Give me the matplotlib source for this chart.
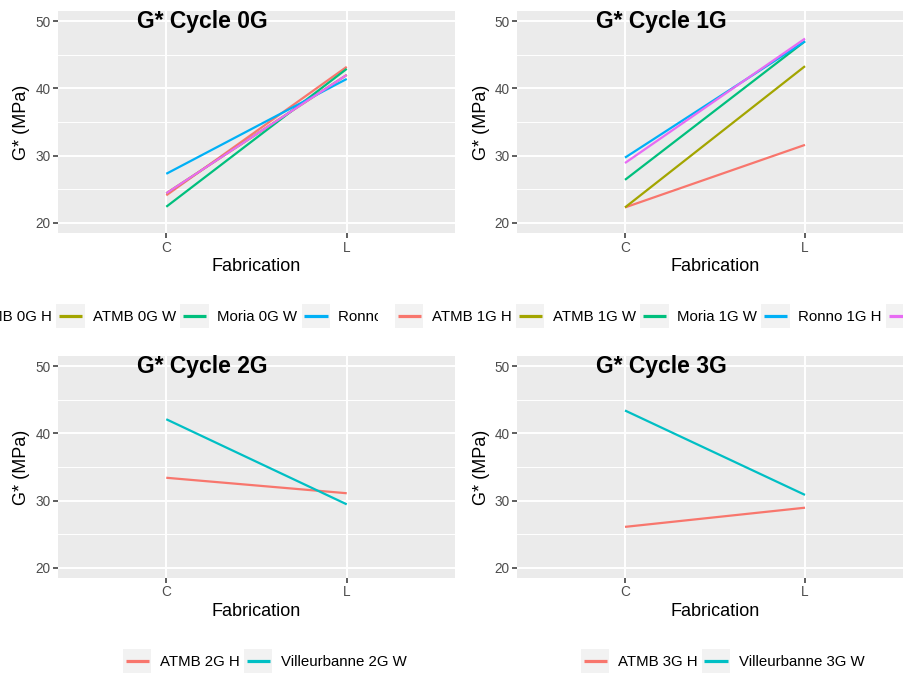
import matplotlib
matplotlib.use("Agg")
import matplotlib.pyplot as plt
from matplotlib.legend_handler import HandlerBase
from matplotlib.patches import Rectangle
from matplotlib.lines import Line2D

plt.rcParams["font.family"] = ["Liberation Sans", "DejaVu Sans"]

fabrication = ["C", "L"]

labels_0g = ["ATMB 0G H", "ATMB 0G W", "Moria 0G W", "Ronno 0G H", "Villeurbanne 0G W"]
c_0g = [24.1, 24.4, 22.4, 27.3, 24.4]
l_0g = [43.2, 42.0, 42.9, 41.4, 42.0]

labels_1g = ["ATMB 1G H", "ATMB 1G W", "Moria 1G W", "Ronno 1G H", "Villeurbanne 1G W"]
c_1g = [22.3, 22.3, 26.4, 29.7, 28.9]
l_1g = [31.6, 43.3, 47.0, 47.0, 47.4]

labels_2g = ["ATMB 2G H", "Villeurbanne 2G W"]
c_2g = [33.4, 42.1]
l_2g = [31.1, 29.45]

labels_3g = ["ATMB 3G H", "Villeurbanne 3G W"]
c_3g = [26.1, 43.4]
l_3g = [28.95, 30.85]

titles = ["G* Cycle 0G", "G* Cycle 1G", "G* Cycle 2G", "G* Cycle 3G"]

hue5 = ["#F8766D", "#A3A500", "#00BF7D", "#00B0F6", "#E76BF3"]
hue2 = ["#F8766D", "#00BFC4"]

W, H = 904, 675


class KeyHandler(HandlerBase):
    # ggplot-style legend key: grey square with a short line
    def create_artists(self, legend, orig_handle, xdescent, ydescent,
                       width, height, fontsize, trans):
        box = Rectangle((-xdescent, -ydescent), width, height,
                        facecolor="#F2F2F2", edgecolor="none", transform=trans)
        y = -ydescent + height / 2
        line = Line2D([-xdescent + width * 0.09, -xdescent + width * 0.91], [y, y],
                      color=orig_handle.get_color(), lw=2.3, solid_capstyle="butt",
                      transform=trans)
        return [box, line]


def panel(fig, left_px, top_px, width_px, labels, c_vals, l_vals, colors, title,
          leg_left_px, leg_y_px):
    ax = fig.add_axes([left_px / W, 1 - (top_px + 222) / H, width_px / W, 222 / H])
    ax.set_facecolor("#EBEBEB")
    for s in ax.spines.values():
        s.set_visible(False)

    handles = []
    for lab, c, l, col in zip(labels, c_vals, l_vals, colors):
        h, = ax.plot(fabrication, [c, l], color=col, lw=1.6, label=lab,
                     solid_capstyle="butt", zorder=3)
        handles.append(h)

    ax.set_xlim(-0.6, 1.6)
    ax.set_ylim(18.5, 51.5)
    ax.set_yticks([20, 30, 40, 50])
    ax.set_yticks([25, 35, 45], minor=True)
    ax.grid(True, which="major", color="white", lw=1.4, zorder=1)
    ax.grid(True, which="minor", axis="y", color="white", lw=0.7, zorder=1)
    ax.set_axisbelow(True)
    ax.tick_params(which="major", length=3.4, width=1.1, color="#333333",
                   labelcolor="#4D4D4D", labelsize=9.8, pad=2)
    ax.tick_params(which="minor", length=0)

    ax.text(0.5, -0.152, "Fabrication", transform=ax.transAxes, ha="center",
            va="center", fontsize=13)
    ax.text(-36 / width_px, 0.5, "G* (MPa)", transform=ax.transAxes, ha="center",
            va="center", rotation=90, fontsize=13)
    ax.text(79 / width_px, 1 - 17 / 222, title, transform=ax.transAxes, ha="left",
            va="baseline", fontsize=16.5, fontweight="bold")

    leg = ax.legend(handles=handles, labels=labels, ncol=len(labels),
                    loc="center left",
                    bbox_to_anchor=(leg_left_px / W, 1 - leg_y_px / H),
                    bbox_transform=fig.transFigure,
                    handler_map={Line2D: KeyHandler()},
                    fontsize=10.8, handlelength=1.9, handleheight=2.0,
                    handletextpad=0.55, columnspacing=0.3, borderpad=1.13,
                    borderaxespad=0, frameon=True, fancybox=False)
    leg.get_frame().set_facecolor("white")
    leg.get_frame().set_edgecolor("none")
    leg.get_frame().set_alpha(1)
    return ax


fig = plt.figure(figsize=(W / 100, H / 100), dpi=100)

panel(fig, 58, 11, 397, labels_0g, c_0g, l_0g, hue5, titles[0], -82, 316)
panel(fig, 517, 11, 396, labels_1g, c_1g, l_1g, hue5, titles[1], 378, 316)
panel(fig, 58, 356, 397, labels_2g, c_2g, l_2g, hue2, titles[2], 106, 661)
panel(fig, 517, 356, 396, labels_3g, c_3g, l_3g, hue2, titles[3], 564, 661)

fig.savefig("out.png", dpi=100)
